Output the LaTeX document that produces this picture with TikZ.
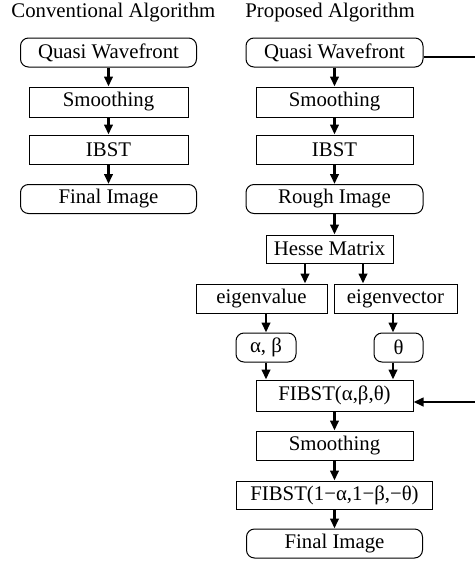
\documentclass[tikz,border=0pt]{standalone}
\usepackage{fontspec}
\setmainfont{Liberation Serif}
\usetikzlibrary{arrows.meta}
\begin{document}
\begin{tikzpicture}[x=0.5pt,y=-0.5pt,
  txt/.style={font=\fontsize{10.4}{12}\selectfont, inner sep=0pt},
  box/.style={txt, draw, line width=0.5pt, minimum height=14.5pt},
  rbox/.style={box, rounded corners=4pt},
  arr/.style={line width=1.3pt, -{Triangle[length=5pt,width=4.2pt]}},
  thickline/.style={line width=1.3pt}]
\useasboundingbox (0,0) rectangle (475,563);

% titles
\node[txt, anchor=base west] (T1) at (11,17) {Conventional Algorithm};
\node[txt, anchor=base west] (T2) at (245,17) {Proposed Algorithm};

% left column
\node[rbox, minimum width=88pt] (LQ) at (108.5,52.5) {Quasi Wavefront};
\node[box, minimum width=79.5pt, minimum height=15pt] (LS) at (108.5,102) {Smoothing};
\node[box, minimum width=79.5pt] (LI) at (108.5,149.5) {IBST};
\node[rbox, minimum width=88pt] (LF) at (108.5,199) {Final Image};

\draw[arr] (LQ) -- (LS);
\draw[arr] (LS) -- (LI);
\draw[arr] (LI) -- (LF);

% right column
\node[rbox, minimum width=88.5pt] (RQ) at (334.5,52.5) {Quasi Wavefront};
\node[box, minimum width=78.5pt, minimum height=15pt] (RS) at (334.5,102) {Smoothing};
\node[box, minimum width=78.5pt] (RI) at (334.5,149.5) {IBST};
\node[rbox, minimum width=88.5pt] (RR) at (334.5,199) {Rough Image};
\node[box, minimum width=63.5pt, minimum height=14pt] (H) at (329.5,249) {Hesse Matrix};
\node[box, minimum width=65.5pt] (EV) at (261.5,298.5) {eigenvalue};
\node[box, minimum width=61.5pt] (EC) at (395.5,298.5) {eigenvector};
\node[rbox, minimum width=30pt] (AB) at (266,347.5) {α, β};
\node[rbox, minimum width=24.5pt] (TH) at (398.5,347.5) {θ};
\node[box, minimum width=78.5pt, minimum height=15.5pt] (F1) at (334.5,395.5) {FIBST(α,β,θ)};
\node[box, minimum width=78.5pt] (S2) at (334.5,445.5) {Smoothing};
\node[box, minimum width=98pt, minimum height=14pt] (F2) at (334.5,495) {FIBST(1−α,1−β,−θ)};
\node[rbox, minimum width=88pt] (FF) at (334.5,543.5) {Final Image};

\draw[arr] (RQ) -- (RS);
\draw[arr] (RS) -- (RI);
\draw[arr] (RI) -- (RR);
\draw[arr] (RR.south) -- (RR.south |- H.north);
\draw[arr] ([xshift=-12.25pt]H.south) -- ([xshift=-12.25pt]H.south |- EV.north);
\draw[arr] ([xshift=16.75pt]H.south) -- ([xshift=16.75pt]H.south |- EC.north);
\draw[arr] (AB.north |- EV.south) -- (AB.north);
\draw[arr] ([xshift=-2.75pt]TH.north |- EC.south) -- ([xshift=-2.75pt]TH.north);
\draw[arr] (AB.south) -- (AB.south |- F1.north);
\draw[arr] ([xshift=-2.75pt]TH.south) -- ([xshift=-2.75pt]TH.south |- F1.north);
\draw[arr] (F1) -- (S2);
\draw[arr] (S2) -- (F2);
\draw[arr] (F2) -- (FF);

% feed-forward line
\coordinate (E1) at (475,57);
\coordinate (E2) at (475,402);
\draw[thickline] (RQ.east |- E1) -- (E1);
\draw[arr] (E2) -- (F1.east |- E2);
\end{tikzpicture}
\end{document}
